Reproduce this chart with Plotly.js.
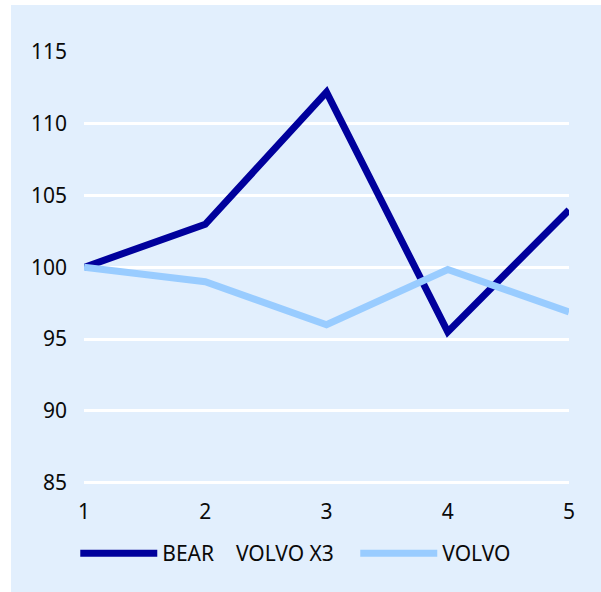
<!DOCTYPE html>
<html>
<head>
<meta charset="utf-8">
<script src="https://cdn.plot.ly/plotly-3.0.1.min.js"></script>
<style>
html,body{margin:0;padding:0;background:#ffffff;}
#chart{position:absolute;left:11px;top:5px;width:590px;height:587px;}
</style>
</head>
<body>
<div id="chart"></div>
<script>
const xValues = [1, 2, 3, 4, 5];
const bearValues = [100, 103, 112.2, 95.5, 104];
const volvoValues = [100, 99.0, 96.0, 99.85, 96.9];
const seriesNames = ["BEAR\u00a0\u00a0\u00a0\u00a0VOLVO X3\u00a0\u00a0\u00a0", "VOLVO"];
const yTicks = [85, 90, 95, 100, 105, 110, 115];

const font = {family: "Noto Sans, Open Sans, sans-serif", size: 21, color: "#0a0a0a"};

const traces = [
  {x: xValues, y: bearValues, name: seriesNames[0], type: "scatter", mode: "lines",
   line: {color: "#00009c", width: 7}},
  {x: xValues, y: volvoValues, name: seriesNames[1], type: "scatter", mode: "lines",
   line: {color: "#99ccff", width: 7}}
];

const layout = {
  width: 590, height: 587,
  paper_bgcolor: "#e2effd", plot_bgcolor: "#e2effd",
  font: font,
  margin: {l: 73, r: 32, t: 47, b: 104.7},
  showlegend: true,
  legend: {orientation: "h", x: -0.018, xanchor: "left", y: -0.106, yanchor: "top",
           itemwidth: 77, font: font, bgcolor: "rgba(0,0,0,0)"},
  xaxis: {range: [1, 5], tickvals: xValues, showgrid: false, zeroline: false,
          showline: false, ticks: "", ticklabelstandoff: 10, fixedrange: true},
  yaxis: {range: [84.7, 115], tickvals: yTicks, showgrid: true, gridcolor: "#ffffff",
          gridwidth: 3, zeroline: false, showline: false, ticks: "",
          ticklabelstandoff: 16, fixedrange: true}
};

Plotly.newPlot("chart", traces, layout, {displayModeBar: false, staticPlot: true});
</script>
</body>
</html>
